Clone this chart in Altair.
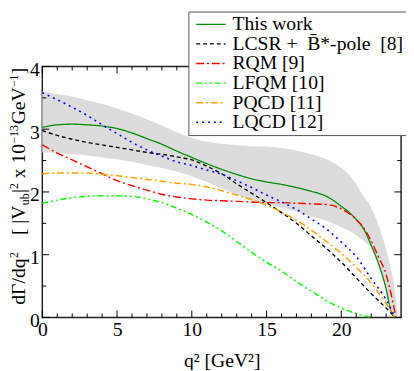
import altair as alt
import pandas as pd

# ---- data ----
series_names = ["This work", "LCSR +\u00a0 B\u0304*-pole \u00a0[8]", "RQM [9]", "LFQM [10]", "PQCD [11]", "LQCD [12]"]
series_colors = ["#008b00", "#000000", "#ff0000", "#00ff00", "#ffa500", "#0000ff"]

q_this = [0, 1, 2, 3, 4, 5, 6, 7, 8, 9, 10, 11, 12, 13, 14, 15, 16, 17, 18, 19, 19.5, 20, 20.5, 21, 21.5, 22, 22.5, 23, 23.3, 23.55]
v_this = [3.03, 3.07, 3.08, 3.07, 3.05, 3.01, 2.94, 2.85, 2.76, 2.65, 2.55, 2.45, 2.36, 2.28, 2.21, 2.16, 2.12, 2.07, 2.01, 1.93, 1.86, 1.77, 1.68, 1.56, 1.41, 1.15, 0.85, 0.45, 0.12, 0.0]

q_lcsr = [0, 1, 2, 3, 4, 5, 6, 7, 8, 9, 10, 11, 12, 13, 14, 15, 16, 17, 18, 19, 20, 21, 22, 23, 23.6]
v_lcsr = [2.98, 2.9, 2.84, 2.79, 2.75, 2.71, 2.67, 2.63, 2.6, 2.56, 2.51, 2.41, 2.29, 2.13, 1.98, 1.83, 1.67, 1.5, 1.3, 1.1, 0.88, 0.63, 0.38, 0.15, 0.0]

q_rqm = [0, 1, 2, 3, 4, 5, 6, 7, 8, 9, 10, 11, 12, 13, 14, 15, 16, 17, 18, 19, 20, 21, 21.5, 22, 22.5, 23, 23.4, 23.65]
v_rqm = [2.75, 2.62, 2.51, 2.4, 2.29, 2.18, 2.1, 2.03, 1.96, 1.92, 1.89, 1.87, 1.86, 1.85, 1.84, 1.83, 1.83, 1.82, 1.81, 1.8, 1.73, 1.56, 1.43, 1.22, 0.96, 0.68, 0.3, 0.0]

q_lfqm = [0, 1, 2, 3, 4, 5, 6, 7, 8, 9, 10, 11, 12, 13, 14, 15, 16, 17, 18, 19, 20, 21, 22]
v_lfqm = [1.82, 1.87, 1.91, 1.93, 1.94, 1.94, 1.93, 1.89, 1.83, 1.74, 1.64, 1.52, 1.38, 1.21, 1.04, 0.88, 0.74, 0.57, 0.42, 0.27, 0.15, 0.06, 0.0]

q_pqcd = [0, 1, 2, 3, 4, 5, 6, 7, 8, 9, 10, 11, 12, 13, 14, 15, 16, 17, 18, 19, 20, 21, 22, 23, 23.6]
v_pqcd = [2.29, 2.3, 2.3, 2.3, 2.28, 2.26, 2.23, 2.2, 2.17, 2.14, 2.12, 2.08, 2.02, 1.95, 1.88, 1.79, 1.68, 1.55, 1.39, 1.21, 1.02, 0.8, 0.55, 0.22, 0.0]

q_lqcd = [0, 1, 2, 3, 4, 5, 6, 7, 8, 9, 10, 11, 12, 13, 14, 15, 16, 17, 18, 19, 20, 21, 22, 23, 23.6]
v_lqcd = [3.58, 3.47, 3.35, 3.22, 3.07, 2.93, 2.79, 2.67, 2.57, 2.48, 2.42, 2.35, 2.28, 2.18, 2.07, 1.95, 1.84, 1.72, 1.57, 1.41, 1.2, 0.97, 0.62, 0.28, 0.0]

q_band = [0, 1, 2, 3, 4, 5, 6, 7, 8, 9, 10, 11, 12, 13, 14, 15, 16, 17, 18, 19, 19.5, 20, 20.5, 21, 21.5, 22, 22.5, 23, 23.5, 23.8]
band_hi = [3.6, 3.56, 3.52, 3.46, 3.4, 3.33, 3.25, 3.16, 3.06, 2.95, 2.86, 2.8, 2.77, 2.75, 2.73, 2.72, 2.7, 2.66, 2.6, 2.52, 2.46, 2.38, 2.28, 2.12, 1.93, 1.75, 1.47, 1.08, 0.55, 0.0]
band_lo = [2.63, 2.62, 2.6, 2.58, 2.55, 2.52, 2.48, 2.43, 2.38, 2.32, 2.25, 2.16, 2.06, 1.96, 1.86, 1.8, 1.75, 1.69, 1.61, 1.54, 1.49, 1.44, 1.38, 1.31, 1.22, 1.1, 0.85, 0.45, 0.05, 0.0]

x_major = [0, 5, 10, 15, 20]
x_minor = [1, 2, 3, 4, 6, 7, 8, 9, 11, 12, 13, 14, 16, 17, 18, 19, 21, 22, 23]
y_major = [0, 1, 2, 3, 4]
y_minor = [0.5, 1.5, 2.5, 3.5]

# ---- build tables ----
rows = []
for name, qs, vs in zip(series_names,
                        [q_this, q_lcsr, q_rqm, q_lfqm, q_pqcd, q_lqcd],
                        [v_this, v_lcsr, v_rqm, v_lfqm, v_pqcd, v_lqcd]):
    for i, (a, b) in enumerate(zip(qs, vs)):
        rows.append({"series": name, "q": a, "v": b, "i": i})
lines_df = pd.DataFrame(rows)
band_df = pd.DataFrame({"q": q_band, "lo": band_lo, "hi": band_hi})

W, H = 366, 256
SERIF = "Liberation Serif"

xs = alt.Scale(domain=[0, 24], nice=False, zero=False)
ys = alt.Scale(domain=[0, 4], nice=False, zero=False)

x_axis = alt.Axis(values=x_major, format="d", ticks=False, domain=False, grid=False, labelFlush=False,
                  labelPadding=2, title="q\u00b2 [GeV\u00b2]", titlePadding=12)
y_axis = alt.Axis(values=y_major, format="d", ticks=False, domain=False, grid=False,
                  labelPadding=3, labelOffset=3, title=None)

band = alt.Chart(band_df).mark_area(color="#dcdcdc", interpolate="monotone").encode(
    x=alt.X("q:Q", scale=xs, axis=x_axis),
    y=alt.Y("lo:Q", scale=ys, axis=y_axis),
    y2="hi:Q",
)

dashes = [[1, 0], [4, 3], [8, 3, 2, 3], [6, 3, 2, 3, 2, 3], [7, 3, 2, 3], [2, 4]]
widths = [1.3, 1.6, 2.2, 1.6, 1.6, 2.0]

lines = alt.Chart(lines_df).mark_line(interpolate="monotone").encode(
    x=alt.X("q:Q", scale=xs, axis=x_axis),
    y=alt.Y("v:Q", scale=ys, axis=y_axis),
    order="i:Q",
    color=alt.Color("series:N", scale=alt.Scale(domain=series_names, range=series_colors),
                    legend=alt.Legend(title=None)),
    strokeDash=alt.StrokeDash("series:N", scale=alt.Scale(domain=series_names, range=dashes),
                              legend=alt.Legend(title=None)),
    strokeWidth=alt.StrokeWidth("series:N", scale=alt.Scale(domain=series_names, range=widths),
                                legend=None),
)

def tick_layer(vals, axis, length, side):
    df = pd.DataFrame({"t": vals})
    base = alt.Chart(df).mark_rule(color="black", strokeWidth=1)
    if axis == "x":
        if side == "bottom":
            return base.encode(x=alt.X("t:Q", scale=xs, axis=x_axis), y=alt.value(H), y2=alt.value(H - length))
        return base.encode(x=alt.X("t:Q", scale=xs, axis=x_axis), y=alt.value(0), y2=alt.value(length))
    if side == "left":
        return base.encode(y=alt.Y("t:Q", scale=ys, axis=y_axis), x=alt.value(0), x2=alt.value(length))
    return base.encode(y=alt.Y("t:Q", scale=ys, axis=y_axis), x=alt.value(W), x2=alt.value(W - length))

ticks = [
    tick_layer(x_major, "x", 7, "bottom"), tick_layer(x_minor, "x", 4, "bottom"),
    tick_layer(x_major, "x", 7, "top"), tick_layer(x_minor, "x", 4, "top"),
    tick_layer(y_major, "y", 7, "left"), tick_layer(y_minor, "y", 4, "left"),
    tick_layer(y_major, "y", 7, "right"), tick_layer(y_minor, "y", 4, "right"),
]

# y-axis title made of pieces (sub/superscripts): (text, y, x, fontsize)
title_pieces = [
    ("d\u0393/dq", 243, -18, 20),
    ("2", 195.5, -25, 12),
    ("[ |V", 172, -18, 20),
    ("ub", 141.5, -14, 12),
    ("|", 129, -18, 20),
    ("2", 125, -25, 12),
    ("x 10", 114, -18, 20),
    ("\u221213", 78.5, -25, 12),
    ("GeV", 59, -18, 20),
    ("\u22121", 21, -25, 12),
    ("]", 8, -18, 20),
]
title_layers = []
for txt, py, px, fs in title_pieces:
    title_layers.append(
        alt.Chart(pd.DataFrame({"k": [0]})).mark_text(
            angle=270, align="left", baseline="alphabetic", font=SERIF, fontSize=fs, color="black"
        ).encode(x=alt.value(px), y=alt.value(py), text=alt.value(txt))
    )

chart = alt.layer(band, lines, *ticks, *title_layers).properties(
    width=W, height=H,
    autosize=alt.AutoSizeParams(type="none"),
    padding={"left": 35, "top": 56, "right": 5, "bottom": 50},
).configure_view(
    stroke="#222", strokeWidth=1.5
).configure_axis(
    labelFont=SERIF, labelFontSize=20, labelColor="black",
    titleFont=SERIF, titleFontSize=20, titleFontWeight="normal", titleColor="black",
).configure_legend(
    orient="none", legendX=149, legendY=-56,
    strokeColor="#555", fillColor="white", padding=3, cornerRadius=0,
    labelFont=SERIF, labelFontSize=20, labelColor="black", labelOffset=22,
    symbolType="M-1,0H5", symbolSize=100, symbolStrokeWidth=1.5, rowPadding=0,
    labelLimit=400,
)

chart.save("out.html", embed_options={"renderer": "svg", "actions": False})
